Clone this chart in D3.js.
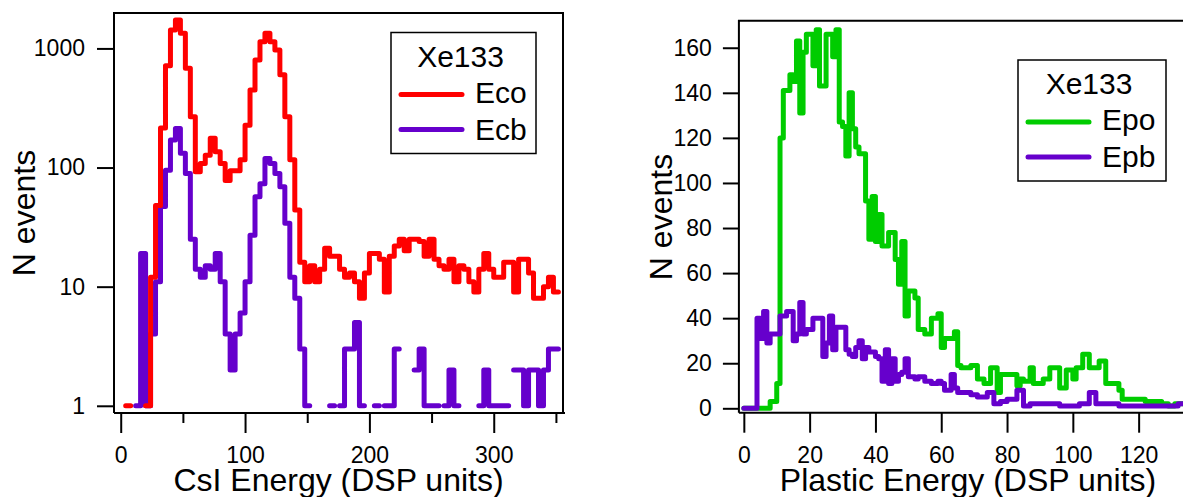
<!DOCTYPE html>
<html>
<head>
<meta charset="utf-8">
<script src="https://cdnjs.cloudflare.com/ajax/libs/d3/7.8.5/d3.min.js"></script>
<style>
  body { margin: 0; background: #fff; }
  svg { display: block; }
  text { font-family: "Liberation Sans", Arial, sans-serif; fill: #000; }
</style>
</head>
<body>
<svg id="chart" width="1183" height="497"></svg>
<script>
'use strict';

// ---- CsI panel: bins of 4 DSP units starting at 0, null = empty bin ----
const csiBinWidth = 4;
const ecoCounts = [
    null, 1, null, null, null, 1, 12, 48, 215, 716,
    1430, 1730, 1340, 680, 267, 92, 108, 127, 176, 136,
    108, 78, 94, 94, 116, 227, 448, 800, 1140, 1340,
    1140, 970, 600, 267, 116, 44, 16, 11, 15, 11,
    14, 21, 18, 18, 14, 12, 13, 11, 8, 13,
    19, 19, 17, 9, 18, 22, 25, 20, 25, 25,
    24, 18, 25, 17, 15, 14, 17, 11, 15, 14,
    11, 9, 14, 19, 14, 12, 12, 16, 16, 9,
    17, 17, 13, 8, 8, 10, 12, 9];
const ecbCounts = [
    null, null, null, 1, 19, 1, 4, 11, 47, 95,
    170, 213, 132, 89, 25, 14, 12, 15, 14, 19,
    11, 4, 2, 4, 6, 11, 27, 57, 73, 119,
    108, 89, 69, 34, 12, 8, 3, 1, null, null,
    null, null, 1, null, 1, 3, 3, 5, 1, null,
    null, 1, null, 1, 1, 3, null, null, null, 2,
    3, 1, 1, 1, null, 1, 2, 1, null, null,
    null, null, 1, 2, 1, 1, 1, 1, null, 2,
    2, 1, 2, 2, 1, 2, 3, 3];
const csiMajorTicks = [0, 100, 200, 300];
const csiMinorTicks = [50, 150, 250, 350];
const csiCountTicks = [1, 10, 100, 1000];

// ---- Plastic panel: bins of 1 DSP unit starting at 0 ----
const plasticBinWidth = 1;
const epoCounts = [
    0, 0, 0, 0, 0, 0, 0, 0, 3, 3,
    11, 120, 141, 141, 148, 145, 163, 131, 158, 166,
    166, 152, 168, 143, 143, 166, 166, 156, 168, 127,
    125, 112, 140, 124, 116, 113, 113, 92, 75, 94,
    74, 86, 72, 72, 78, 78, 66, 55, 74, 41,
    52, 52, 49, 35, 35, 33, 33, 40, 40, 42,
    27, 31, 31, 31, 34, 19, 18, 18, 18, 19,
    19, 13, 13, 11, 11, 18, 18, 7, 15, 15,
    15, 15, 15, 10, 13, 12, 12, 18, 11, 11,
    11, 13, 13, 18, 18, 18, 9, 9, 17, 17,
    13, 18, 18, 24, 24, 18, 18, 18, 21, 21,
    11, 11, 11, 11, 8, 4, 4, 4, 4, 4,
    4, 4, 3, 3, 3, 3, 3, 2, 2, 1,
    1, 2, 2, 2];
const epbCounts = [
    0, 0, 0, 0, 40, 31, 43, 29, 33, 33,
    33, 41, 41, 43, 43, 30, 33, 47, 33, 35,
    35, 40, 40, 40, 23, 29, 41, 26, 36, 36,
    36, 26, 24, 23, 27, 30, 22, 27, 25, 25,
    23, 22, 12, 26, 11, 22, 12, 15, 16, 22,
    14, 14, 13, 14, 14, 12, 12, 11, 11, 12,
    11, 8, 8, 15, 9, 7, 7, 7, 7, 6,
    6, 5, 5, 5, 7, 7, 2, 2, 3, 3,
    4, 4, 4, 8, 8, 1, 1, 2, 2, 2,
    2, 2, 2, 2, 2, 2, 1, 1, 1, 1,
    1, 1, 2, 2, 2, 7, 7, 2, 2, 2,
    2, 2, 2, 2, 1, 1, 1, 1, 1, 1,
    1, 1, 1, 1, 1, 1, 1, 1, 1, 1,
    1, 1, 2, 2];
const plasticTicks = [0, 20, 40, 60, 80, 100, 120];
const plasticCountTicks = [0, 20, 40, 60, 80, 100, 120, 140, 160];

const legendTitle = "Xe133";
const csiSeriesNames = ["Eco", "Ecb"];
const plasticSeriesNames = ["Epo", "Epb"];

const RED = "#ff0000";
const PURPLE = "#6600cc";
const GREEN = "#00cc00";

const svg = d3.select("#chart");

// turn a histogram into step points: each bin gives its left and right edge
function stepPoints(counts, width) {
    let pts = [];
    counts.forEach((c, i) => {
        pts.push({x: i * width, y: c});
        pts.push({x: (i + 1) * width, y: c});
    });
    return pts;
}

function drawTrace(xScale, yScale, counts, width, colour) {
    let line = d3.line()
        .defined(d => d.y !== null)
        .x(d => xScale(d.x))
        .y(d => yScale(d.y));
    svg.append("path")
        .attr("d", line(stepPoints(counts, width)))
        .attr("fill", "none")
        .attr("stroke", colour)
        .attr("stroke-width", 5)
        .attr("stroke-linejoin", "round")
        .attr("stroke-linecap", "round");
}

function styleAxis(g, fontSize) {
    g.select(".domain").remove();
    g.selectAll(".tick line").attr("stroke", "#000").attr("stroke-width", 2);
    g.selectAll(".tick text")
        .attr("font-size", fontSize)
        .attr("font-family", "'Liberation Sans', Arial, sans-serif")
        .attr("fill", "#000");
    g.attr("font-family", null).attr("font-size", null);
}

function drawFrame(x0, x1, y0, y1, xEnd) {
    svg.append("path")
        .attr("d", `M${x0},${y1}L${xEnd},${y1}M${x0},${y1}L${x0},${y0}L${x1},${y0}L${x1},${y1}`)
        .attr("fill", "none")
        .attr("stroke", "#000")
        .attr("stroke-width", 2);
}

function drawLegend(x, y, w, h, names, colours, title) {
    let g = svg.append("g").attr("transform", `translate(${x},${y})`);
    g.append("rect")
        .attr("width", w).attr("height", h)
        .attr("fill", "#fff").attr("stroke", "#000").attr("stroke-width", 1.5);
    g.append("text")
        .attr("x", w / 2 - 3).attr("y", 34)
        .attr("text-anchor", "middle")
        .attr("font-size", 30)
        .text(title);
    names.forEach((name, i) => {
        let ly = 62 + i * 35;
        g.append("line")
            .attr("x1", 10).attr("x2", 71)
            .attr("y1", ly).attr("y2", ly)
            .attr("stroke", colours[i]).attr("stroke-width", 5)
            .attr("stroke-linecap", "round");
        g.append("text")
            .attr("x", 84).attr("y", ly + 8 + (i * 2))
            .attr("font-size", 30)
            .text(name);
    });
}

// ================= left panel: CsI energy, log counts =================
const csiX = d3.scaleLinear().domain([-5.4, 355.7]).range([114, 563]);
const csiY = d3.scaleLog().domain([0.87, 1983]).range([413, 13]);

drawTrace(csiX, csiY, ecbCounts, csiBinWidth, PURPLE);
drawTrace(csiX, csiY, ecoCounts, csiBinWidth, RED);

drawFrame(114, 563, 13, 413, 565);

svg.append("g")
    .attr("transform", "translate(0,413)")
    .call(d3.axisBottom(csiX).tickValues(csiMinorTicks).tickSize(10).tickSizeOuter(0).tickFormat(""))
    .call(g => styleAxis(g, 23));
svg.append("g")
    .attr("transform", "translate(0,413)")
    .call(d3.axisBottom(csiX).tickValues(csiMajorTicks).tickSize(20).tickPadding(14).tickSizeOuter(0))
    .call(g => styleAxis(g, 23));
svg.append("g")
    .attr("transform", "translate(114,0)")
    .call(d3.axisLeft(csiY).tickValues(csiCountTicks).tickFormat(d3.format("d"))
        .tickSize(17).tickPadding(12).tickSizeOuter(0))
    .call(g => styleAxis(g, 23));

svg.append("text")
    .attr("x", 338.5).attr("y", 491)
    .attr("text-anchor", "middle").attr("font-size", 32)
    .text("CsI Energy (DSP units)");
svg.append("text")
    .attr("transform", "translate(35,213) rotate(-90)")
    .attr("text-anchor", "middle").attr("font-size", 32)
    .text("N events");

drawLegend(391, 32.5, 145, 121, csiSeriesNames, [RED, PURPLE], legendTitle);

// ================= right panel: plastic energy, linear counts =================
const plasticX = d3.scaleLinear().domain([-1.5, 134]).range([738.9, 1184.7]);
const plasticY = d3.scaleLinear().domain([-1.95, 172]).range([412.7, 20.7]);

drawTrace(plasticX, plasticY, epoCounts, plasticBinWidth, GREEN);
drawTrace(plasticX, plasticY, epbCounts, plasticBinWidth, PURPLE);

drawFrame(738.9, 1190, 20.7, 412.7, 1190);

svg.append("g")
    .attr("transform", "translate(0,412.7)")
    .call(d3.axisBottom(plasticX).tickValues(plasticTicks).tickSize(20).tickPadding(14).tickSizeOuter(0))
    .call(g => styleAxis(g, 23));
svg.append("g")
    .attr("transform", "translate(738.9,0)")
    .call(d3.axisLeft(plasticY).tickValues(plasticCountTicks).tickSize(16).tickPadding(11).tickSizeOuter(0))
    .call(g => styleAxis(g, 23));

svg.append("text")
    .attr("x", 968).attr("y", 491)
    .attr("text-anchor", "middle").attr("font-size", 32)
    .text("Plastic Energy (DSP units)");
svg.append("text")
    .attr("transform", "translate(672,217) rotate(-90)")
    .attr("text-anchor", "middle").attr("font-size", 32)
    .text("N events");

drawLegend(1018, 60, 148, 121, plasticSeriesNames, [GREEN, PURPLE], legendTitle);
</script>
</body>
</html>
